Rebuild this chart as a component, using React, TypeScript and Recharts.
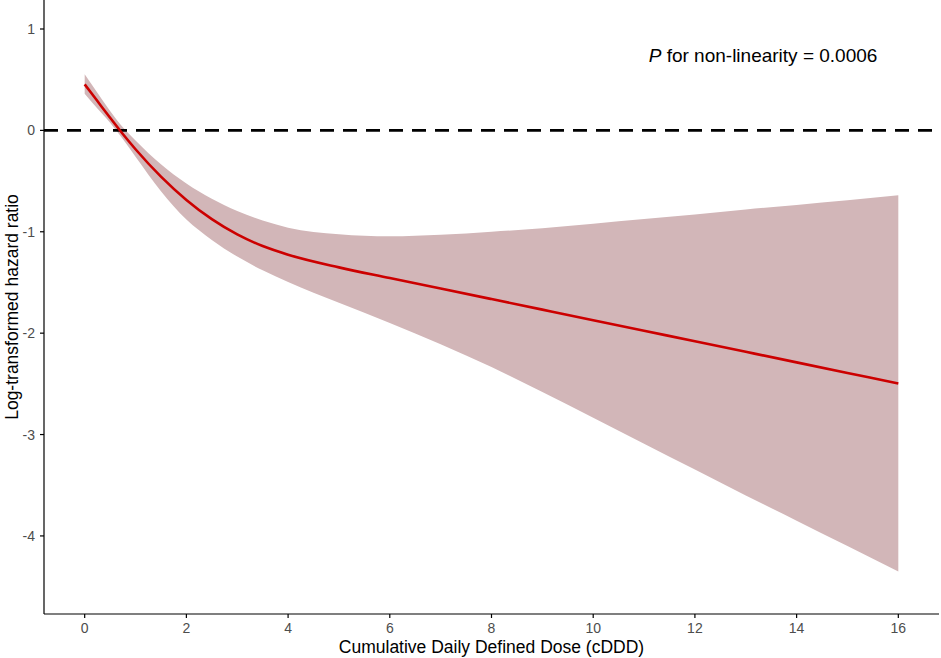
import React from "react";

//recharts
import {
  ComposedChart,
  Area,
  Line,
  XAxis,
  YAxis,
  ReferenceLine,
  ReferenceDot,
} from "recharts";

//data
const dose = [
  0, 0.25, 0.5, 0.75, 1, 1.5, 2, 2.5, 3, 3.5, 4, 5, 6, 7, 8, 9, 10, 11, 12,
  13, 14, 15, 16,
];
const logHR = [
  0.454, 0.289, 0.124, -0.036, -0.186, -0.456, -0.686, -0.876, -1.026, -1.141,
  -1.226, -1.351, -1.456, -1.56, -1.664, -1.768, -1.872, -1.976, -2.08,
  -2.184, -2.288, -2.392, -2.496,
];
const ciLower = [
  0.362, 0.215, 0.075, -0.085, -0.26, -0.6, -0.88, -1.08, -1.245, -1.38,
  -1.495, -1.7, -1.9, -2.11, -2.335, -2.58, -2.835, -3.09, -3.345, -3.6,
  -3.85, -4.1, -4.35,
];
const ciUpper = [
  0.553, 0.37, 0.19, 0.03, -0.1, -0.335, -0.525, -0.675, -0.795, -0.89,
  -0.96, -1.025, -1.045, -1.03, -1.0, -0.965, -0.92, -0.875, -0.83, -0.78,
  -0.735, -0.69, -0.64,
];
const xTicks = [0, 2, 4, 6, 8, 10, 12, 14, 16];
const yTicks = [-4, -3, -2, -1, 0, 1];

const rows = dose.map((x, i) => ({
  x,
  fit: logHR[i],
  ci: [ciLower[i], ciUpper[i]],
}));

const FONT = "'Liberation Sans', Arial, Helvetica, sans-serif";
const tickStyle = { fill: "#4D4D4D", fontSize: 14, fontFamily: FONT };

const YTitle = ({ viewBox }: any) => {
  const cx = viewBox.x + 18;
  const cy = viewBox.y + viewBox.height / 2;
  return (
    <text
      x={cx}
      y={cy}
      transform={`rotate(-90, ${cx}, ${cy})`}
      textAnchor="middle"
      fontSize={17.5}
      fontFamily={FONT}
      fill="#000"
    >
      Log-transformed hazard ratio
    </text>
  );
};

const XTitle = ({ viewBox }: any) => (
  <text
    x={viewBox.x + viewBox.width / 2}
    y={viewBox.y + 39}
    textAnchor="middle"
    fontSize={17.5}
    fontFamily={FONT}
    fill="#000"
  >
    Cumulative Daily Defined Dose (cDDD)
  </text>
);

const PNote = ({ viewBox }: any) => (
  <text
    x={viewBox.x + viewBox.width / 2}
    y={viewBox.y + viewBox.height / 2 + 7}
    textAnchor="middle"
    fontSize={19}
    fontFamily={FONT}
    fill="#000"
  >
    <tspan fontStyle="italic">P</tspan> for non-linearity = 0.0006
  </text>
);

const App = () => {
  return (
    <div style={{ position: "absolute", left: 0, top: 0, background: "#fff" }}>
      <ComposedChart
        width={941}
        height={658}
        data={rows}
        margin={{ top: 0, right: 2, left: 0, bottom: 0 }}
      >
        <XAxis
          dataKey="x"
          type="number"
          domain={[-0.8, 16.8]}
          ticks={xTicks}
          allowDataOverflow
          height={44}
          tick={tickStyle}
          tickSize={4}
          tickMargin={5}
          stroke="#000"
          strokeWidth={1.2}
          label={<XTitle />}
        />
        <YAxis
          type="number"
          domain={[-4.77, 1.286]}
          ticks={yTicks}
          allowDataOverflow
          width={44}
          tick={tickStyle}
          tickSize={4}
          tickMargin={5}
          stroke="#000"
          strokeWidth={1.2}
          label={<YTitle />}
        />
        <Area
          type="monotone"
          dataKey="ci"
          stroke="none"
          fill="#D2B6B8"
          fillOpacity={1}
          isAnimationActive={false}
        />
        <ReferenceLine
          y={0}
          stroke="#000"
          strokeWidth={2.6}
          strokeDasharray="14 9"
        />
        <Line
          type="monotone"
          dataKey="fit"
          stroke="#CC0000"
          strokeWidth={2.6}
          dot={false}
          isAnimationActive={false}
        />
        <ReferenceDot
          x={13.34}
          y={0.74}
          r={0}
          fill="none"
          stroke="none"
          label={<PNote />}
        />
      </ComposedChart>
    </div>
  );
};

export default App;
